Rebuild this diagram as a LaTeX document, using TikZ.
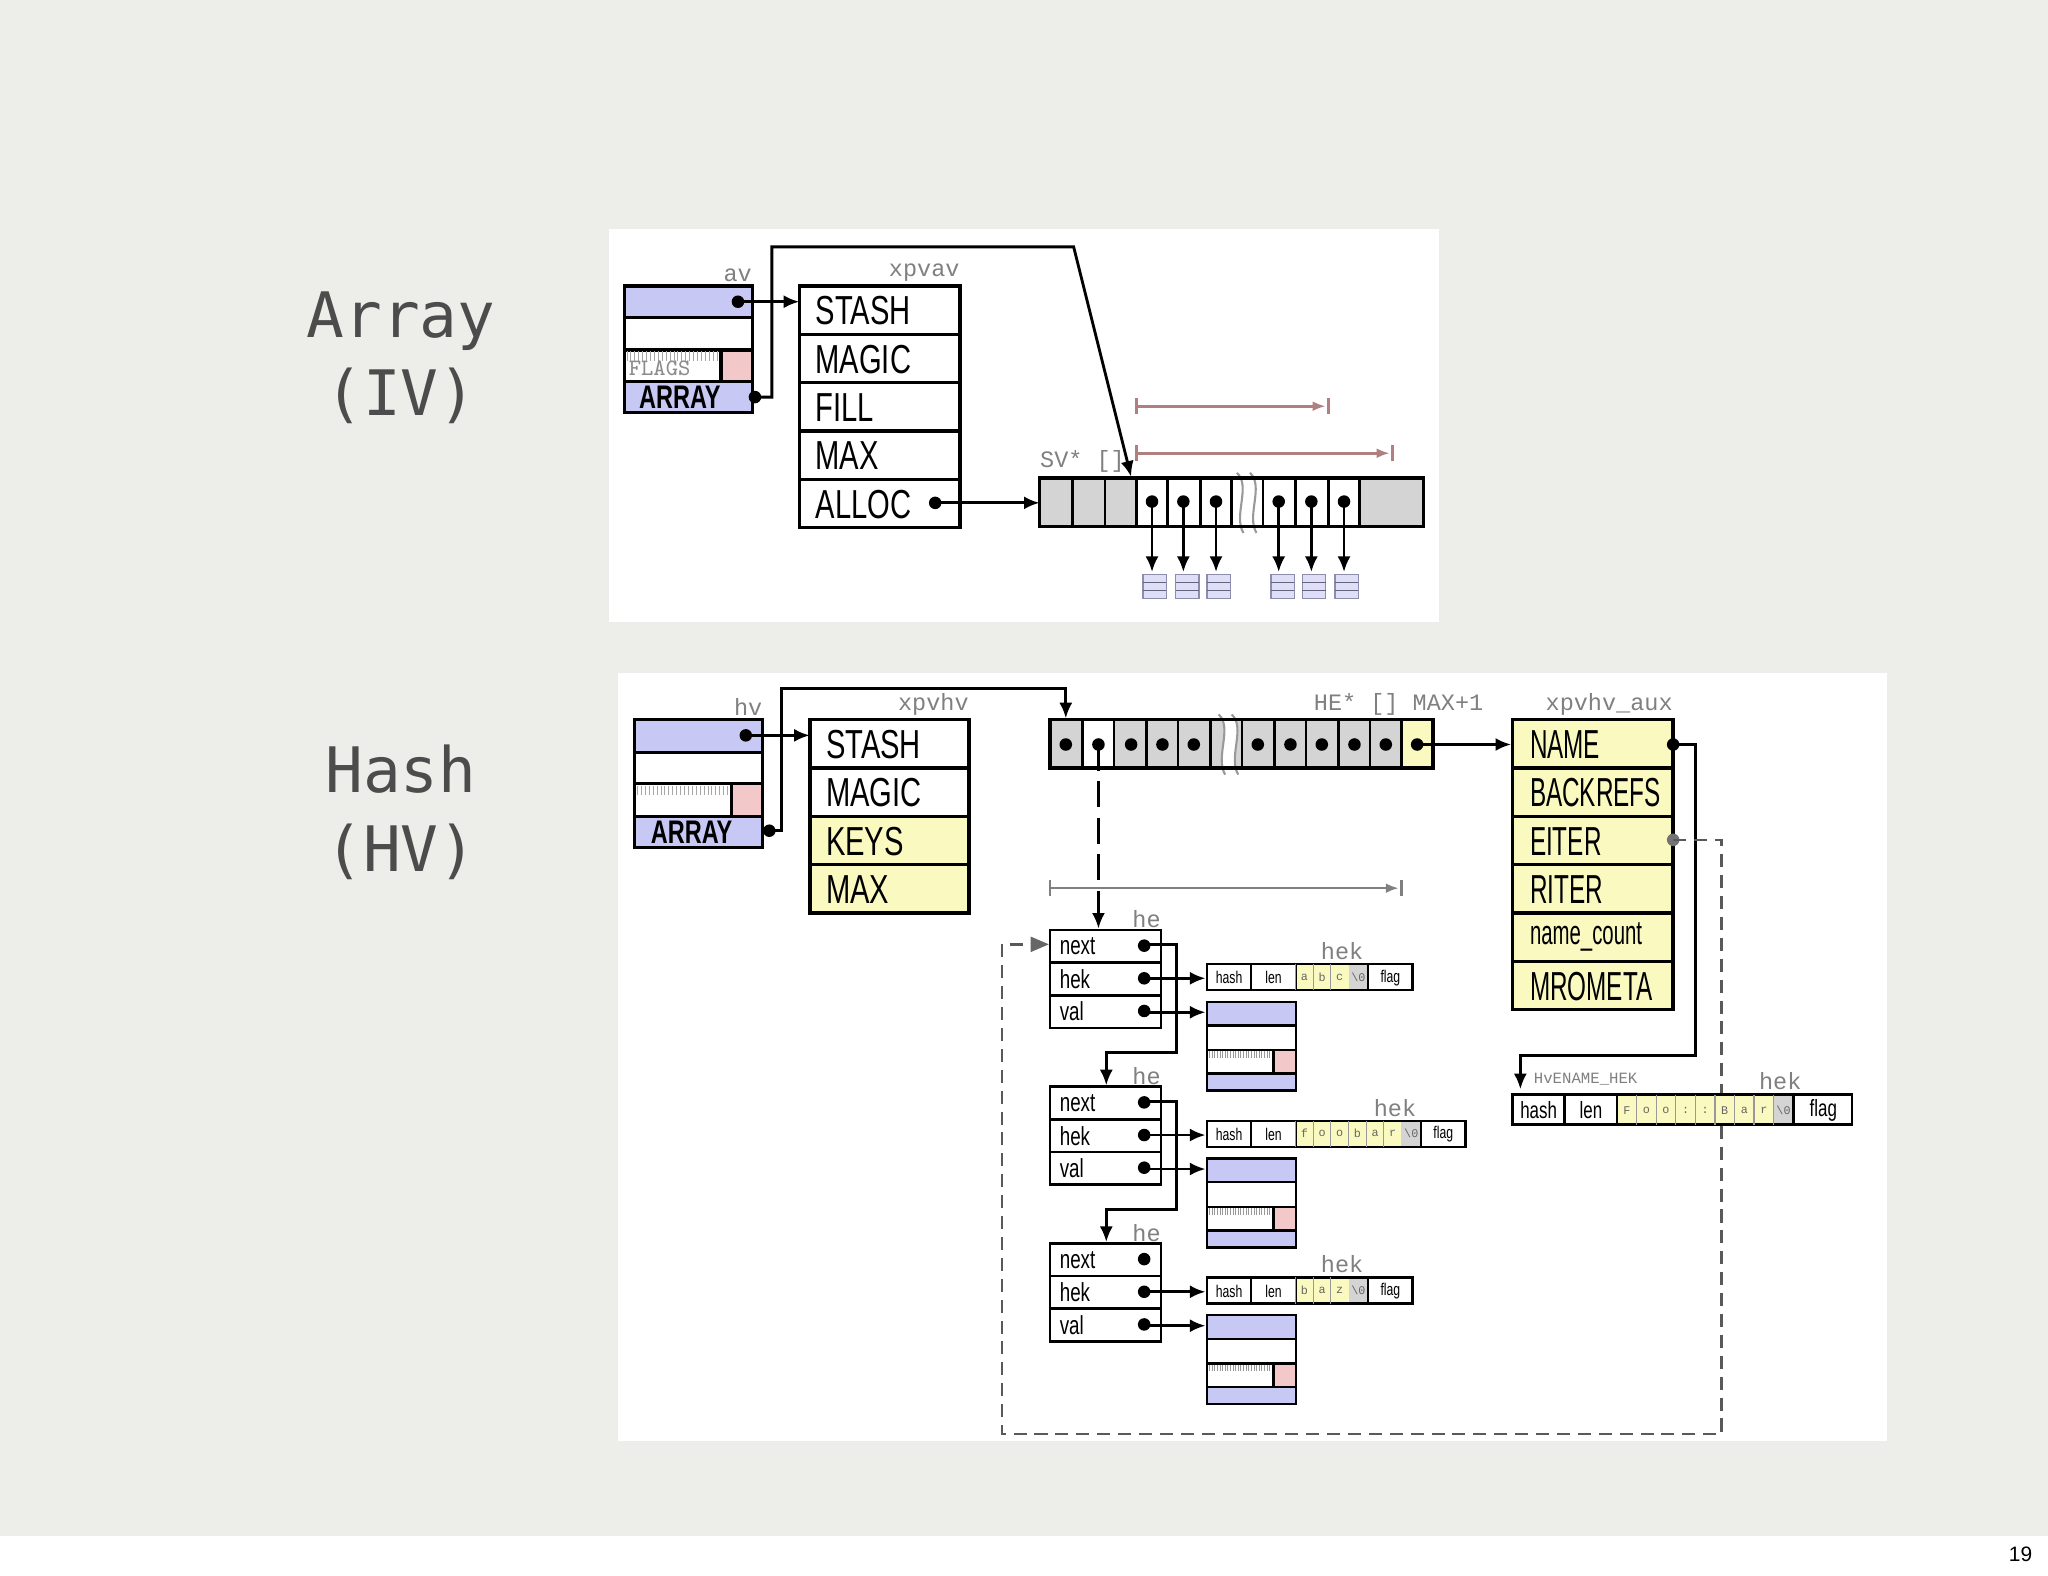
\documentclass[tikz,border=0pt]{standalone}
\usepackage{fontspec}
\setmainfont{Liberation Sans}
\newfontfamily\cond{Liberation Sans}[FakeStretch=0.72]
\newfontfamily\condx{Liberation Sans}[FakeStretch=0.6]
\newfontfamily\tmono{Liberation Mono}
\newfontfamily\dmono{DejaVu Sans Mono}
\definecolor{bg}{HTML}{EDEDEA}
\definecolor{lav}{HTML}{C8C8F5}
\definecolor{pinkc}{HTML}{F2C8C8}
\definecolor{yel}{HTML}{FAFAC0}
\definecolor{grc}{HTML}{D4D4D4}
\definecolor{lbl}{HTML}{808080}
\definecolor{rng}{HTML}{B08080}
\usetikzlibrary{arrows.meta}
\tikzset{
 bx/.style={draw=black,line width=1.3pt},
 big/.style={anchor=west,font=\cond\fontsize{15.5}{15.5}\selectfont,inner sep=0pt},
 bigx/.style={anchor=west,font=\condx\fontsize{15.5}{15.5}\selectfont,inner sep=0pt},
 mid/.style={anchor=west,font=\cond\fontsize{10}{10}\selectfont,inner sep=0pt},
 sm/.style={font=\cond\fontsize{6.5}{6.5}\selectfont,inner sep=0pt},
 tiny/.style={font=\tmono\fontsize{4.5}{4.5}\selectfont,inner sep=0pt},
 lab/.style={font=\tmono\fontsize{9}{9}\selectfont,text=lbl,inner sep=0pt},
 title/.style={font=\dmono\fontsize{24}{30}\selectfont,text=black!70,align=center},
 ptr/.style={line width=1.1pt,-{Latex[length=6pt,width=5pt]}},
 dsh/.style={line width=1pt,draw=black!65,dash pattern=on 5pt off 3pt},
}
\newcommand{\dott}[2]{\fill (#1,#2) circle (2.4pt);}
\newcommand{\svbox}[2]{%
 \begin{scope}[shift={(#1,#2)}]
 \draw[bx,line width=0.9pt,fill=lav] (0,0) rectangle (68,18);
 \draw[bx,line width=0.9pt,fill=white] (0,18) rectangle (68,37);
 \draw[bx,line width=0.9pt,fill=white] (0,37) rectangle (51,55);
 \foreach \i in {2,4,...,48} \draw[black!40,line width=0.3pt] (\i,38) -- (\i,43);
 \draw[bx,line width=0.9pt,fill=pinkc] (51,37) rectangle (68,55);
 \draw[bx,line width=0.9pt,fill=lav] (0,55) rectangle (68,68);
 \end{scope}}
\newcommand{\minisv}[1]{%
 \draw[lav!70!black,line width=0.5pt,fill=lav!60] (#1,440) rectangle ++(18,18);
 \draw[lav!50!black,line width=0.4pt] (#1,446) -- ++(18,0) (#1,452) -- ++(18,0);}
\begin{document}
\begin{tikzpicture}[x=0.5pt,y=-0.5pt]
\fill[bg] (0,0) rectangle (1568,1206);
\fill[white] (0,1176) rectangle (1568,1206);
\node[font=\fontsize{8}{8}\selectfont] (pg) at (1547,1190) {19};
\node[title] (t1) at (307,274) {Array\\(IV)};
\node[title] (t2) at (307,622) {Hash\\(HV)};
% ================= ARRAY PANEL
\fill[white] (466,175) rectangle (1102,476);
\node[lab,anchor=south east] (avl) at (576,216) {av};
\draw[bx,fill=lav] (478,219) rectangle (576,243);
\draw[bx,fill=white] (478,243) rectangle (576,268);
\draw[bx,fill=white] (478,268) rectangle (552,292);
\foreach \i in {480,483,...,549} \draw[black!35,line width=0.3pt] (\i,269) -- (\i,276);
\node[lab,anchor=west,text=black!45,font=\fontfamily{lmtt}\selectfont\fontsize{9}{9}\selectfont] at (481,282) {FLAGS};
\draw[bx,fill=pinkc] (552,268) rectangle (576,292);
\draw[bx,fill=lav] (478,292) rectangle (576,316);
\node[big,font=\cond\bfseries\fontsize{12.5}{12.5}\selectfont] (avarr) at (489,304) {ARRAY};
\node[lab,anchor=south east] (xal) at (735,216) {xpvav};
\foreach \y/\t [count=\k] in {219/STASH,256/MAGIC,293/FILL,330/MAX,367/ALLOC}{
  \draw[bx,fill=white] (612,\y) rectangle (735,\y+37);
  \node[big] (xa\k) at (624,\y+19) {\t};}
\dott{565}{231}
\draw[ptr] (565,231) -- (612,231);
\dott{578}{304}
\draw[ptr] (578,304) -- (591,304) -- (591,189) -- (822,189) -- (866,365);
\dott{716}{385}
\draw[ptr] (716,385) -- (796,385);
\node[lab,anchor=south west] (svl) at (796,362) {SV* []};
\draw[rng,line width=1pt,-{Latex[length=5pt]}] (870,311) -- (1015,311);
\draw[rng,line width=1pt] (870,305)--(870,317) (1017,305)--(1017,317);
\draw[rng,line width=1pt,-{Latex[length=5pt]}] (870,347) -- (1064,347);
\draw[rng,line width=1pt] (870,341)--(870,353) (1066,341)--(1066,353);
\draw[bx,fill=grc] (796,366) rectangle (1090,403);
\fill[white] (870,367) rectangle (1041,402);
\foreach \x in {821,846,870,894,919,943,967,992,1017,1041} \draw[line width=1pt] (\x,366)--(\x,403);
\fill[white] (947,362) .. controls (958,372) and (944,395) .. (952,408) -- (962,408) .. controls (954,395) and (968,372) .. (957,362) -- cycle;
\draw[black!40,line width=0.8pt] (947,362) .. controls (958,372) and (944,395) .. (952,408) (957,362) .. controls (968,372) and (954,395) .. (962,408);
\draw[bx] (796,366) rectangle (1090,403);
\foreach \x in {882,906,931,979,1004,1029}{\dott{\x}{384}\draw[ptr](\x,384)--(\x,438);}
\foreach \x in {875,900,924,973,997,1022}{\minisv{\x}}
% ================= HASH PANEL
\fill[white] (473,515) rectangle (1445,1103);
\node[lab,anchor=south east] (hvl) at (584,548) {hv};
\draw[bx,fill=lav] (486,551) rectangle (584,576);
\draw[bx,fill=white] (486,576) rectangle (584,600);
\draw[bx,fill=white] (486,600) rectangle (560,625);
\foreach \i in {488,491,...,557} \draw[black!35,line width=0.3pt] (\i,602) -- (\i,609);
\draw[bx,fill=pinkc] (560,600) rectangle (584,625);
\draw[bx,fill=lav] (486,625) rectangle (584,649);
\node[big,font=\cond\bfseries\fontsize{12.5}{12.5}\selectfont] (hvarr) at (498,637) {ARRAY};
\node[lab,anchor=south east] (xhl) at (742,548) {xpvhv};
\foreach \y/\t/\c [count=\k] in {551/STASH/white,588/MAGIC/white,625/KEYS/yel,662/MAX/yel}{
  \draw[bx,fill=\c] (620,\y) rectangle (742,\y+37);
  \node[big] (xh\k) at (632,\y+19) {\t};}
\dott{571}{563}
\draw[ptr] (571,563) -- (620,563);
\dott{589}{636}
\draw[ptr] (589,636) -- (598,636) -- (598,527) -- (816,527) -- (816,550);
\node[lab,anchor=south east] (hel) at (1136,548) {HE* [] MAX+1};
\draw[bx,fill=grc] (804,551) rectangle (1097,588);
\fill[white] (829,552) rectangle (853,587);
\fill[yel] (1073,552) rectangle (1097,587);
\foreach \x in {829,853,878,902,927,951,976,1000,1025,1049,1073} \draw[line width=1pt] (\x,551)--(\x,588);
\fill[white] (933,547) .. controls (944,557) and (930,580) .. (938,593) -- (948,593) .. controls (940,580) and (954,557) .. (943,547) -- cycle;
\draw[black!40,line width=0.8pt] (933,547) .. controls (944,557) and (930,580) .. (938,593) (943,547) .. controls (954,557) and (940,580) .. (948,593);
\draw[bx] (804,551) rectangle (1097,588);
\foreach \x in {816,841,866,890,914,963,988,1012,1037,1061,1085}{\dott{\x}{570}}
\node[lab,anchor=south east] (auxl) at (1281,548) {xpvhv\_aux};
\foreach \y/\t [count=\k] in {551/NAME,588/BACKREFS,625/EITER,662/RITER,736/MROMETA}{
  \draw[bx,fill=yel] (1158,\y) rectangle (1281,\y+37);
  \node[bigx] (ax\k) at (1171,\y+19) {\t};}
\draw[bx,fill=yel] (1158,699) rectangle (1281,736);
\node[bigx,font=\condx\fontsize{13}{13}\selectfont] (axn) at (1171,717) {name\_count};
\draw[ptr] (1085,570) -- (1157,570);
\draw[black!50,line width=1pt,-{Latex[length=5pt]}] (804,680) -- (1071,680);
\draw[black!50,line width=1pt] (804,674)--(804,686) (1073,674)--(1073,686);
\draw[ptr,dash pattern=on 10pt off 4pt] (841,570) -- (841,711);
\dott{1281}{570}
\draw[ptr] (1281,570) -- (1298,570) -- (1298,808) -- (1164,808) -- (1164,834);
\node[anchor=south west,text=lbl,font=\tmono\fontsize{6}{6}\selectfont,inner sep=0pt] (hvn) at (1174,831) {HvENAME\_HEK};
\node[lab,anchor=south] (hekn) at (1363,835) {hek};
\fill[black!55] (1281,643) circle (2.4pt);
\draw[dsh] (1281,643) -- (1318,643) -- (1318,1098) -- (767,1098) -- (767,723) -- (790,723);
\fill[black!60] (803,723) -- (789,717) -- (789,729) -- cycle;
\draw[bx,line width=1pt,fill=white] (1158,838) rectangle (1418,861);
\fill[yel] (1238,839) rectangle (1358,860);
\fill[grc] (1358,839) rectangle (1373,860);
\foreach \x in {1198,1238,1373} \draw[line width=1pt] (\x,838)--(\x,861);
\foreach \x in {1253,1268,...,1358} \draw[black!40,line width=0.5pt] (\x,838)--(\x,861);
\node[sm,font=\cond\fontsize{9}{9}\selectfont] at (1178,850) {hash};
\node[sm,font=\cond\fontsize{9}{9}\selectfont] at (1218,850) {len};
\node[sm,font=\cond\fontsize{9}{9}\selectfont] at (1396,850) {flag};
\foreach \c [count=\i] in {F,o,o,:,:,B,a,r,\textbackslash0}
  \node[tiny,text=black!60] at (1230.5+15*\i,850) {\c};
\newcommand{\heent}[1]{%
  \node[lab,anchor=south east] at (889,#1-1) {he};
  \foreach \t [count=\k] in {next,hek,val}{
    \draw[bx,line width=1pt,fill=white] (804,#1+25*\k-25) rectangle (889,#1+25*\k);
    \node[mid] at (811,#1+25*\k-12.5) {\t};
    \dott{876}{#1+25*\k-13}}
  \draw[ptr] (876,#1+37) -- (923,#1+37);
  \draw[ptr] (876,#1+63) -- (923,#1+63);
  \svbox{924}{#1+55}
}
\heent{712}
\heent{832}
\heent{952}
\draw[ptr] (876,723) -- (901,723) -- (901,806) -- (847,806) -- (847,831);
\draw[ptr] (876,843) -- (901,843) -- (901,926) -- (847,926) -- (847,951);
\newcommand{\smhek}[3]{%
  \begin{scope}[shift={(924,#1)}]
  \pgfmathsetmacro\ce{68+13.5*#2}
  \fill[yel] (68,0) rectangle (\ce,20);
  \fill[grc] (\ce,0) rectangle (\ce+15,20);
  \draw[bx,line width=0.9pt] (0,0) rectangle (\ce+49,20);
  \foreach \x in {34,68} \draw[line width=0.9pt] (\x,0)--(\x,20);
  \draw[line width=0.9pt] (\ce+15,0)--(\ce+15,20);
  \foreach \c [count=\i] in {#3} {\draw[black!40,line width=0.4pt] (54.5+13.5*\i,0)--(54.5+13.5*\i,20);
    \node[tiny,text=black!60] at (61.25+13.5*\i,10) {\c};}
  \node[tiny,text=black!60] at (\ce+7.5,10) {\textbackslash0};
  \node[sm] at (17,10.5) {hash};
  \node[sm] at (51,10.5) {len};
  \node[sm] at (\ce+32,10.5) {flag};
  \node[lab,anchor=south] at (\ce-5,-3) {hek};
  \end{scope}}
\smhek{738}{3}{a,b,c}
\smhek{858}{6}{f,o,o,b,a,r}
\smhek{978}{3}{b,a,z}
\end{tikzpicture}
\end{document}
